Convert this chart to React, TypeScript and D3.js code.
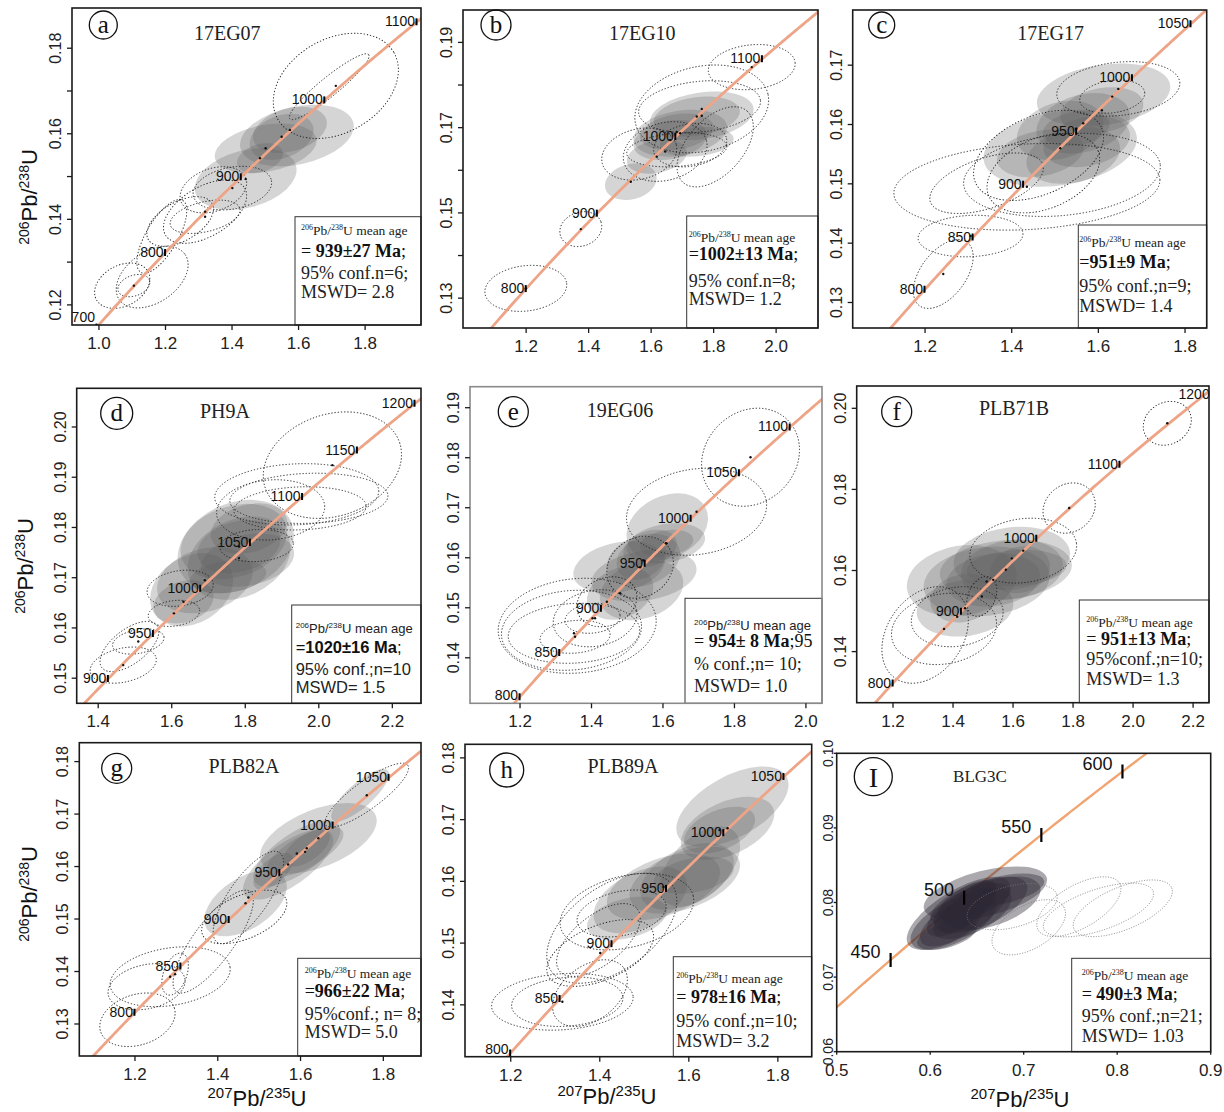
import React from "react";
import * as d3 from "d3";

// decay constants, per Ma
const L238 = 1.55125e-4;
const L235 = 9.8485e-4;

type Ell = [number, number, number, number, number]; // x, y, sx, sy, rho

const panelLetters = ["a", "b", "c", "d", "e", "f", "g", "h", "I"];
const sampleNames = ["17EG07", "17EG10", "17EG17", "PH9A", "19EG06", "PLB71B", "PLB82A", "PLB89A", "BLG3C"];

const xDomains: [number, number][] = [
  [0.919, 1.968], [0.998, 2.134], [1.033, 1.85],
  [1.3415, 2.278], [1.06, 2.045], [1.079, 2.253],
  [1.0655, 1.891], [1.0973, 1.876], [0.5, 0.9],
];
const yDomains: [number, number][] = [
  [0.1153, 0.1894], [0.123, 0.1976], [0.1257, 0.1793],
  [0.145, 0.2077], [0.1309, 0.1942], [0.1274, 0.2055],
  [0.1239, 0.1836], [0.1316, 0.1822], [0.06, 0.1],
];

const xTicks = [
  [1.0, 1.2, 1.4, 1.6, 1.8], [1.2, 1.4, 1.6, 1.8, 2.0], [1.2, 1.4, 1.6, 1.8],
  [1.4, 1.6, 1.8, 2.0, 2.2], [1.2, 1.4, 1.6, 1.8, 2.0], [1.2, 1.4, 1.6, 1.8, 2.0, 2.2],
  [1.2, 1.4, 1.6, 1.8], [1.2, 1.4, 1.6, 1.8], [0.5, 0.6, 0.7, 0.8, 0.9],
];
const yTicks = [
  [0.12, 0.13, 0.14, 0.15, 0.16, 0.17, 0.18], [0.13, 0.14, 0.15, 0.16, 0.17, 0.18, 0.19], [0.13, 0.14, 0.15, 0.16, 0.17],
  [0.15, 0.16, 0.17, 0.18, 0.19, 0.2], [0.14, 0.15, 0.16, 0.17, 0.18, 0.19], [0.14, 0.16, 0.18, 0.2],
  [0.13, 0.14, 0.15, 0.16, 0.17, 0.18], [0.14, 0.15, 0.16, 0.17, 0.18], [0.06, 0.07, 0.08, 0.09, 0.1],
];
const yTickLabels = [
  [0.12, 0.14, 0.16, 0.18], [0.13, 0.15, 0.17, 0.19], [0.13, 0.14, 0.15, 0.16, 0.17],
  [0.15, 0.16, 0.17, 0.18, 0.19, 0.2], [0.14, 0.15, 0.16, 0.17, 0.18, 0.19], [0.14, 0.16, 0.18, 0.2],
  [0.13, 0.14, 0.15, 0.16, 0.17, 0.18], [0.14, 0.15, 0.16, 0.17, 0.18], [0.06, 0.07, 0.08, 0.09, 0.1],
];

const concordiaAges = [
  [700, 800, 900, 1000, 1100], [800, 900, 1000, 1100], [800, 850, 900, 950, 1000, 1050],
  [900, 950, 1000, 1050, 1100, 1150, 1200], [800, 850, 900, 950, 1000, 1050, 1100], [800, 900, 1000, 1100, 1200],
  [800, 850, 900, 950, 1000, 1050], [800, 850, 900, 950, 1000, 1050], [450, 500, 550, 600],
];

const filledA: Ell[] = [
  [1.441, 0.1494, 0.153, 0.0072, 0.3], [1.501, 0.1566, 0.153, 0.0058, 0.3], [1.595, 0.1596, 0.171, 0.0072, 0.3],
  [1.484, 0.1543, 0.069, 0.0035, 0.3], [1.574, 0.1609, 0.111, 0.0054, 0.3], [1.549, 0.1593, 0.096, 0.0054, 0.3],
];
const dottedA: Ell[] = [
  [1.712, 0.1712, 0.188, 0.0123, 0.3], [1.692, 0.171, 0.12, 0.0077, 0.93], [1.07, 0.1245, 0.083, 0.0053, 0.3],
  [1.105, 0.1245, 0.048, 0.0026, 0.3], [1.16, 0.1265, 0.108, 0.0072, 0.4], [1.189, 0.136, 0.075, 0.0086, 0.7],
  [1.244, 0.1395, 0.1, 0.0058, 0.5], [1.319, 0.1418, 0.125, 0.0074, 0.5], [1.344, 0.1469, 0.1, 0.0054, 0.3],
  [1.401, 0.1473, 0.118, 0.0051, 0.25], [1.319, 0.1406, 0.105, 0.0039, 0.4],
];
const filledB: Ell[] = [
  [1.535, 0.1573, 0.083, 0.0043, 0.2], [1.762, 0.1728, 0.166, 0.0057, 0.25], [1.693, 0.1687, 0.15, 0.0055, 0.25],
  [1.661, 0.1671, 0.118, 0.0047, 0.25], [1.618, 0.1632, 0.096, 0.004, 0.25], [1.746, 0.1726, 0.138, 0.0047, 0.25],
  [1.682, 0.169, 0.118, 0.0043, 0.25], [1.746, 0.1667, 0.118, 0.0035, 0.2],
];
const dottedB: Ell[] = [
  [1.199, 0.1323, 0.131, 0.0054, 0.15], [1.375, 0.1462, 0.067, 0.0041, 0.15], [1.922, 0.1842, 0.139, 0.0053, 0.15],
  [1.762, 0.1744, 0.214, 0.0103, 0.2], [1.755, 0.1749, 0.195, 0.0061, 0.2], [1.562, 0.1638, 0.12, 0.0061, 0.2],
  [1.645, 0.1644, 0.134, 0.007, 0.2], [1.682, 0.1648, 0.16, 0.004, 0.2], [1.725, 0.1659, 0.117, 0.0051, 0.2],
  [1.805, 0.1655, 0.122, 0.0094, 0.5],
];
const filledC: Ell[] = [
  [1.512, 0.156, 0.177, 0.0065, 0.25], [1.612, 0.165, 0.154, 0.0053, 0.25], [1.565, 0.1602, 0.108, 0.0051, 0.25],
  [1.542, 0.1548, 0.108, 0.0048, 0.25], [1.549, 0.1593, 0.077, 0.003, 0.25], [1.512, 0.159, 0.1, 0.005, 0.25],
  [1.608, 0.1624, 0.096, 0.0039, 0.25], [1.466, 0.1551, 0.1, 0.004, 0.25], [1.573, 0.1571, 0.1, 0.0043, 0.25],
];
const dottedC: Ell[] = [
  [1.435, 0.1495, 0.307, 0.0073, 0.15], [1.305, 0.1412, 0.121, 0.0035, 0.1], [1.242, 0.1348, 0.069, 0.0058, 0.5],
  [1.516, 0.1515, 0.227, 0.007, 0.2], [1.646, 0.166, 0.142, 0.0046, 0.2], [1.632, 0.1647, 0.075, 0.0028, 0.2],
  [1.462, 0.1548, 0.15, 0.0076, 0.4], [1.473, 0.1518, 0.13, 0.0067, 0.35], [1.342, 0.1501, 0.131, 0.0051, 0.5],
];
const filledD: Ell[] = [
  [1.654, 0.1676, 0.113, 0.0073, 0.25], [1.774, 0.1762, 0.158, 0.0093, 0.25], [1.769, 0.1772, 0.145, 0.0075, 0.25],
  [1.783, 0.1739, 0.14, 0.0083, 0.25], [1.806, 0.1735, 0.127, 0.0053, 0.25], [1.81, 0.1798, 0.104, 0.005, 0.25],
  [1.632, 0.1652, 0.082, 0.0043, 0.25], [1.783, 0.1762, 0.113, 0.0053, 0.25], [1.69, 0.1695, 0.13, 0.0066, 0.25],
  [1.753, 0.1702, 0.104, 0.0033, 0.25],
];
const dottedD: Ell[] = [
  [2.037, 0.1924, 0.188, 0.0106, 0.2], [1.94, 0.1866, 0.223, 0.0061, 0.1], [1.973, 0.1858, 0.215, 0.005, 0.1],
  [1.869, 0.1835, 0.147, 0.006, 0.1], [1.949, 0.1838, 0.18, 0.0043, 0.1], [1.831, 0.1764, 0.1, 0.0032, 0.1],
  [1.623, 0.1679, 0.09, 0.0036, 0.2], [1.606, 0.1629, 0.07, 0.0026, 0.2], [1.468, 0.1526, 0.09, 0.0036, 0.3],
  [1.485, 0.1563, 0.08, 0.005, 0.6], [1.509, 0.1573, 0.07, 0.0025, 0.3],
];
const filledE: Ell[] = [
  [1.477, 0.1581, 0.128, 0.0052, 0.25], [1.547, 0.1564, 0.147, 0.0052, 0.25], [1.54, 0.1535, 0.117, 0.006, 0.25],
  [1.612, 0.1662, 0.114, 0.0067, 0.25], [1.608, 0.1629, 0.11, 0.004, 0.25], [1.545, 0.1595, 0.103, 0.0053, 0.25],
  [1.54, 0.1599, 0.07, 0.0043, 0.25], [1.564, 0.1619, 0.075, 0.0037, 0.25], [1.48, 0.1529, 0.093, 0.0053, 0.25],
  [1.61, 0.1629, 0.075, 0.0027, 0.25],
];
const dottedE: Ell[] = [
  [1.845, 0.1801, 0.137, 0.0098, 0.15], [1.694, 0.1692, 0.196, 0.0087, 0.15], [1.36, 0.1464, 0.221, 0.0095, 0.1],
  [1.344, 0.1455, 0.196, 0.008, 0.1], [1.351, 0.1449, 0.184, 0.006, 0.1], [1.354, 0.1442, 0.098, 0.0033, 0.15],
  [1.41, 0.1479, 0.117, 0.0057, 0.15], [1.403, 0.1479, 0.077, 0.003, 0.15], [1.443, 0.1512, 0.084, 0.005, 0.2],
  [1.536, 0.1581, 0.093, 0.0062, 0.15],
];
const filledF: Ell[] = [
  [1.429, 0.1575, 0.183, 0.0088, 0.15], [1.44, 0.1507, 0.161, 0.007, 0.15], [1.512, 0.1573, 0.21, 0.0086, 0.15],
  [1.576, 0.1602, 0.22, 0.0074, 0.15], [1.596, 0.163, 0.194, 0.0078, 0.15], [1.596, 0.1602, 0.17, 0.0074, 0.15],
  [1.623, 0.1602, 0.1, 0.0058, 0.15], [1.534, 0.1577, 0.156, 0.0066, 0.15], [1.434, 0.1532, 0.11, 0.006, 0.15],
  [1.612, 0.1606, 0.167, 0.0045, 0.15],
];
const dottedF: Ell[] = [
  [2.114, 0.1963, 0.08, 0.0054, 0.15], [1.787, 0.1754, 0.087, 0.0062, 0.15], [1.634, 0.1649, 0.178, 0.008, 0.15],
  [1.307, 0.1441, 0.144, 0.0119, 0.3], [1.37, 0.1456, 0.175, 0.0088, 0.15], [1.414, 0.1486, 0.153, 0.0074, 0.15],
  [1.496, 0.1536, 0.05, 0.0049, 0.3],
];
const filledG: Ell[] = [
  [1.643, 0.1654, 0.141, 0.0067, 0.5], [1.744, 0.1736, 0.07, 0.005, 0.8], [1.467, 0.153, 0.1, 0.0063, 0.5],
  [1.591, 0.1625, 0.105, 0.0063, 0.7], [1.611, 0.1628, 0.093, 0.0048, 0.7], [1.615, 0.1635, 0.056, 0.0035, 0.6],
  [1.534, 0.1591, 0.048, 0.0035, 0.6], [1.57, 0.1604, 0.109, 0.0067, 0.7],
];
const dottedG: Ell[] = [
  [1.76, 0.1736, 0.101, 0.0061, 0.85], [1.474, 0.1541, 0.085, 0.0088, 0.75], [1.464, 0.1504, 0.103, 0.0051, 0.5],
  [1.389, 0.1457, 0.097, 0.0098, 0.8], [1.285, 0.139, 0.145, 0.0057, 0.25], [1.297, 0.1395, 0.032, 0.004, 0.4],
  [1.228, 0.1371, 0.093, 0.0044, 0.25], [1.206, 0.1308, 0.091, 0.0051, 0.25],
];
const filledH: Ell[] = [
  [1.698, 0.1721, 0.126, 0.0065, 0.55], [1.687, 0.1686, 0.105, 0.0051, 0.45], [1.669, 0.1683, 0.08, 0.0038, 0.45],
  [1.625, 0.1624, 0.09, 0.0065, 0.5], [1.596, 0.1608, 0.105, 0.0054, 0.45], [1.591, 0.1602, 0.124, 0.0054, 0.45],
  [1.543, 0.1591, 0.127, 0.0054, 0.45], [1.491, 0.157, 0.105, 0.0054, 0.45], [1.461, 0.154, 0.09, 0.0035, 0.35],
  [1.611, 0.161, 0.09, 0.003, 0.35],
];
const dottedH: Ell[] = [
  [1.316, 0.1405, 0.159, 0.0046, 0.15], [1.327, 0.1405, 0.125, 0.004, 0.15], [1.427, 0.1524, 0.146, 0.0089, 0.5],
  [1.461, 0.1551, 0.15, 0.0062, 0.3], [1.449, 0.1548, 0.1, 0.0038, 0.3], [1.401, 0.1484, 0.12, 0.0054, 0.5],
  [1.397, 0.1505, 0.094, 0.0059, 0.6], [1.378, 0.1419, 0.084, 0.0054, 0.4],
];
const filledI: Ell[] = [
  [0.6304, 0.07855, 0.0555, 0.0049, 0.7], [0.659, 0.08123, 0.066, 0.0036, 0.5], [0.634, 0.07922, 0.0375, 0.0038, 0.7],
  [0.654, 0.07966, 0.05, 0.0038, 0.6], [0.625, 0.07743, 0.046, 0.0038, 0.6], [0.666, 0.0799, 0.052, 0.0036, 0.5],
  [0.647, 0.0801, 0.039, 0.0025, 0.6], [0.623, 0.0772, 0.034, 0.0031, 0.6], [0.677, 0.0817, 0.045, 0.0022, 0.5],
  [0.618, 0.07564, 0.032, 0.002, 0.5], [0.64, 0.079, 0.03, 0.003, 0.7], [0.645, 0.0785, 0.042, 0.0034, 0.6],
  [0.635, 0.08, 0.035, 0.0028, 0.7],
];
const dottedI: Ell[] = [
  [0.6876, 0.07944, 0.0482, 0.0031, 0.4], [0.7054, 0.07668, 0.0393, 0.0037, 0.5], [0.759, 0.07944, 0.045, 0.004, 0.6],
  [0.78, 0.079, 0.059, 0.0036, 0.6], [0.806, 0.07922, 0.053, 0.0038, 0.6],
];

const filledSets = [filledA, filledB, filledC, filledD, filledE, filledF, filledG, filledH, filledI];
const dottedSets = [dottedA, dottedB, dottedC, dottedD, dottedE, dottedF, dottedG, dottedH, dottedI];

const meanAgePrefix = ["= ", "=", "=", "=", "= ", " = ", "=", "= ", "= "];
const meanAges = ["939±27 Ma", "1002±13 Ma", "951±9 Ma", "1020±16 Ma", "954± 8 Ma", "951±13 Ma", "966±22 Ma", "978±16 Ma", "490±3 Ma"];
const meanAgeSuffix = [";", ";", ";", ";", ";95", ";", ";", ";", ";"];
const confTexts = ["95% conf.n=6;", "95% conf.n=8;", "95% conf.;n=9;", "95% conf.;n=10", "% conf.;n= 10;", "95%conf.;n=10;", "95%conf.; n= 8;", "95% conf.;n=10;", "95% conf.;n=21;"];
const mswdTexts = ["MSWD= 2.8", "MSWD= 1.2", "MSWD= 1.4", "MSWD= 1.5", "MSWD= 1.0", "MSWD= 1.3", "MSWD= 5.0", "MSWD= 3.2", "MSWD= 1.03"];

// ---- layout (pixels) ----
const boxes = [
  [72, 8, 421, 325], [463, 10, 818, 328], [852.7, 10, 1206.7, 328],
  [76.7, 388.3, 421, 703.3], [470, 386.7, 822, 703.3], [856.7, 386, 1209, 702.7],
  [79.3, 742.7, 421, 1056], [465, 744.3, 811.7, 1056.7], [836.7, 753.3, 1210.7, 1051.7],
];
const letterPos = [
  [103.3, 25, 14], [496, 25, 15], [881.7, 25, 13],
  [116.7, 413.3, 16], [513.3, 411.7, 15], [896.7, 411.7, 15],
  [116.7, 768.3, 15], [506.7, 770, 17], [873.3, 776.7, 19],
];
const titlePos = [
  [227.3, 40], [642.3, 40], [1050.7, 40], [225, 418.3], [620, 416.7], [1014, 415],
  [244, 773.3], [623, 773.3], [980, 781.7],
];
const legendPos = [
  [295, 216.7], [686.7, 216], [1078.3, 225], [291.7, 605], [685, 598.3], [1079.3, 600],
  [297.7, 958.3], [673.3, 956.7], [1071.7, 958.3],
];
const legendTextX = [6, 2, 1, 4, 9, 7, 7, 3, 10];
const legendLineY = [
  [18, 40, 62, 81], [25.7, 44, 70.7, 89], [21.7, 43, 66.7, 86.7],
  [28, 48, 70, 88], [31.7, 48.4, 71.7, 93.4], [26.7, 45, 65, 85],
  [20, 38.4, 61.7, 80], [26.6, 46.6, 70, 90], [21.7, 41.7, 63.4, 83.4],
];

const SANS = "'Liberation Sans', Arial, Helvetica, sans-serif";
const SERIF = "'Liberation Serif', 'Times New Roman', Times, serif";

function ellipseGeom(e: Ell, x: d3.ScaleLinear<number, number>, y: d3.ScaleLinear<number, number>, kx: number, ky: number) {
  const [cx, cy, sx, sy, rho] = e;
  const a = sx * kx;
  const b = sy * ky;
  const p = a * a, r = b * b, q = -rho * a * b;
  const th = 0.5 * Math.atan2(2 * q, p - r);
  const m = (p + r) / 2;
  const d = Math.sqrt(((p - r) / 2) ** 2 + q * q);
  return {
    cx: x(cx), cy: y(cy),
    rx: Math.sqrt(m + d), ry: Math.sqrt(Math.max(m - d, 0.5)),
    ang: (th * 180) / Math.PI,
  };
}

function Panel({ i }: { i: number }) {
  const [l, t, r, b] = boxes[i];
  const xd = xDomains[i], yd = yDomains[i];
  const x = d3.scaleLinear().domain(xd).range([l, r]);
  const y = d3.scaleLinear().domain(yd).range([b, t]);
  const kx = (r - l) / (xd[1] - xd[0]);
  const ky = (b - t) / (yd[1] - yd[0]);
  const isI = i === 8;
  const conX = (a: number) => Math.exp(L235 * a) - 1;
  const conY = (a: number) => Math.exp(L238 * a) - 1;
  const span = isI ? d3.range(300, 800, 2) : d3.range(500, 1500, 2);
  const conc = d3.line<number>().x((a) => x(conX(a))).y((a) => y(conY(a)))(span) || "";
  const concPts = span.map((a) => [x(conX(a)), y(conY(a))]);
  const nearConcordia = (px: number, py: number) =>
    d3.min(concPts, ([qx, qy]) => Math.hypot(qx - px, qy - py))! < 5;
  const clipId = `clip-${i}`;
  const tickLen = isI ? 3 : 5;

  const filled = filledSets[i].map((e, k) => {
    const g = ellipseGeom(e, x, y, kx, ky);
    return (
      <ellipse key={"f" + k} cx={g.cx} cy={g.cy} rx={g.rx} ry={g.ry}
        transform={`rotate(${g.ang} ${g.cx} ${g.cy})`}
        fill={isI ? "#2c2734" : "#5e5e5e"} fillOpacity={isI ? 0.4 : 0.26} stroke="none" />
    );
  });
  const dotted = dottedSets[i].map((e, k) => {
    const g = ellipseGeom(e, x, y, kx, ky);
    return (
      <ellipse key={"d" + k} cx={g.cx} cy={g.cy} rx={g.rx} ry={g.ry}
        transform={`rotate(${g.ang} ${g.cx} ${g.cy})`}
        fill="none" stroke={isI ? "#777" : "#222"} strokeWidth={isI ? 0.8 : 0.9}
        strokeDasharray={isI ? "1 1.6" : "1.3 1.9"} />
    );
  });
  const dots = isI ? null : [...filledSets[i], ...dottedSets[i]]
    .filter((e) => nearConcordia(x(e[0]), y(e[1])))
    .map((e, k) => <circle key={"c" + k} cx={x(e[0])} cy={y(e[1])} r={1.2} fill="#111" />);
  const concLine = (
    <path d={conc} fill="none" stroke={isI ? "#f0a572" : "#eea487"} strokeWidth={isI ? 2.4 : 2.8} />
  );
  const ageTicks = concordiaAges[i].map((a) => {
    const px = x(conX(a)), py = y(conY(a));
    return (
      <line key={"at" + a} x1={px} x2={px} y1={py - (isI ? 7 : 4)} y2={py + (isI ? 7 : 3)}
        stroke="#000" strokeWidth={isI ? 2.2 : 2} />
    );
  });
  const ageLabels = concordiaAges[i].map((a) => {
    const px = x(conX(a)), py = y(conY(a));
    const ly = Math.max(t + 13, Math.min(b - 3, py + (isI ? -2 : 4)));
    return (
      <text key={"al" + a} x={px - (isI ? 10 : 1.5)} y={ly} textAnchor="end"
        fontFamily={SANS} fontSize={isI ? 18 : 14} fill="#111">{a}</text>
    );
  });

  const [lx, ly] = legendPos[i];
  const ty = legendLineY[i];
  const tx = lx + legendTextX[i];
  const line1Font = i === 3 || i === 4 ? SANS : SERIF;
  const bodyFont = i === 3 ? SANS : SERIF;
  const bodySize = i === 3 ? 16.5 : 18;

  return (
    <g>
      <defs>
        <clipPath id={clipId}>
          <rect x={l} y={t} width={r - l} height={b - t} />
        </clipPath>
      </defs>
      <g clipPath={`url(#${clipId})`}>
        {isI && concLine}
        {filled}
        {dotted}
        {!isI && concLine}
        {dots}
        {ageTicks}
      </g>
      {ageLabels}
      {/* legend box */}
      <rect x={lx} y={ly} width={r - lx} height={b - ly} fill="#fff" stroke="#333" strokeWidth={1} />
      <text x={tx} y={ly + ty[0]} fontFamily={line1Font} fontSize={i === 3 || i === 4 ? 13 : 13.5} fill="#222">
        <tspan fontSize={8} dy={-5}>206</tspan>
        <tspan dy={5}>Pb/</tspan>
        <tspan fontSize={8} dy={-5}>238</tspan>
        <tspan dy={5}>U mean age</tspan>
      </text>
      <text x={tx} y={ly + ty[1]} fontFamily={bodyFont} fontSize={bodySize} fill="#111">
        <tspan>{meanAgePrefix[i]}</tspan>
        <tspan fontWeight="bold">{meanAges[i]}</tspan>
        <tspan>{meanAgeSuffix[i]}</tspan>
      </text>
      <text x={tx} y={ly + ty[2]} fontFamily={bodyFont} fontSize={bodySize} fill="#222">{confTexts[i]}</text>
      <text x={tx} y={ly + ty[3]} fontFamily={bodyFont} fontSize={bodySize} fill="#222">{mswdTexts[i]}</text>

      {/* frame */}
      <rect x={l} y={t} width={r - l} height={b - t} fill="none"
        stroke={i === 4 ? "#8a8a8a" : "#1a1a1a"} strokeWidth={1.6} />

      {/* x axis */}
      {xTicks[i].map((v) => (
        <g key={"xt" + v}>
          <line x1={x(v)} x2={x(v)} y1={b} y2={b + tickLen} stroke="#1a1a1a" strokeWidth={1.3} />
          <text x={x(v)} y={b + 24} textAnchor="middle" fontFamily={SANS} fontSize={17} fill="#222">
            {v.toFixed(1)}
          </text>
        </g>
      ))}
      {/* y axis */}
      {yTicks[i].map((v) => (
        <line key={"yt" + v} x1={l} x2={l - tickLen} y1={y(v)} y2={y(v)} stroke="#1a1a1a" strokeWidth={1.3} />
      ))}
      {yTickLabels[i].map((v) => (
        <text key={"yl" + v} transform={`translate(${l - (isI ? 4 : 11)},${y(v)}) rotate(-90)`}
          textAnchor="middle" fontFamily={SANS} fontSize={isI ? 14 : 16} fill="#222">
          {v.toFixed(2)}
        </text>
      ))}

      {/* panel letter and sample */}
      <circle cx={letterPos[i][0]} cy={letterPos[i][1]} r={letterPos[i][2]} fill="none" stroke="#111" strokeWidth={1.3} />
      <text x={letterPos[i][0]} y={letterPos[i][1] + (isI ? 10 : 8)} textAnchor="middle" fontFamily={SERIF}
        fontSize={isI ? 28 : 25} fill="#111">{panelLetters[i]}</text>
      <text x={titlePos[i][0]} y={titlePos[i][1]} textAnchor="middle" fontFamily={SERIF}
        fontSize={isI ? 17 : 20} fill="#222">{sampleNames[i]}</text>
    </g>
  );
}

const yTitlePos = [[37, 197], [33, 566], [37, 894]];
const xTitlePos = [[257, 1106], [607, 1104], [1020, 1107]];

export default function App() {
  return (
    <div style={{ position: "absolute", left: 0, top: 0 }}>
      <svg width={1224} height={1112} style={{ display: "block", background: "#fff" }}>
        <rect width={1224} height={1112} fill="#fff" />
        {sampleNames.map((_, i) => (
          <Panel key={i} i={i} />
        ))}
        {yTitlePos.map(([px, py], k) => (
          <text key={"yT" + k} transform={`translate(${px},${py}) rotate(-90)`} textAnchor="middle"
            fontFamily={SANS} fontSize={22} fill="#111">
            <tspan fontSize={14} dy={-8}>206</tspan>
            <tspan dy={8}>Pb/</tspan>
            <tspan fontSize={14} dy={-8}>238</tspan>
            <tspan dy={8}>U</tspan>
          </text>
        ))}
        {xTitlePos.map(([px, py], k) => (
          <text key={"xT" + k} x={px} y={py} textAnchor="middle" fontFamily={SANS} fontSize={22} fill="#111">
            <tspan fontSize={15} dy={-8}>207</tspan>
            <tspan dy={8}>Pb/</tspan>
            <tspan fontSize={15} dy={-8}>235</tspan>
            <tspan dy={8}>U</tspan>
          </text>
        ))}
      </svg>
    </div>
  );
}
